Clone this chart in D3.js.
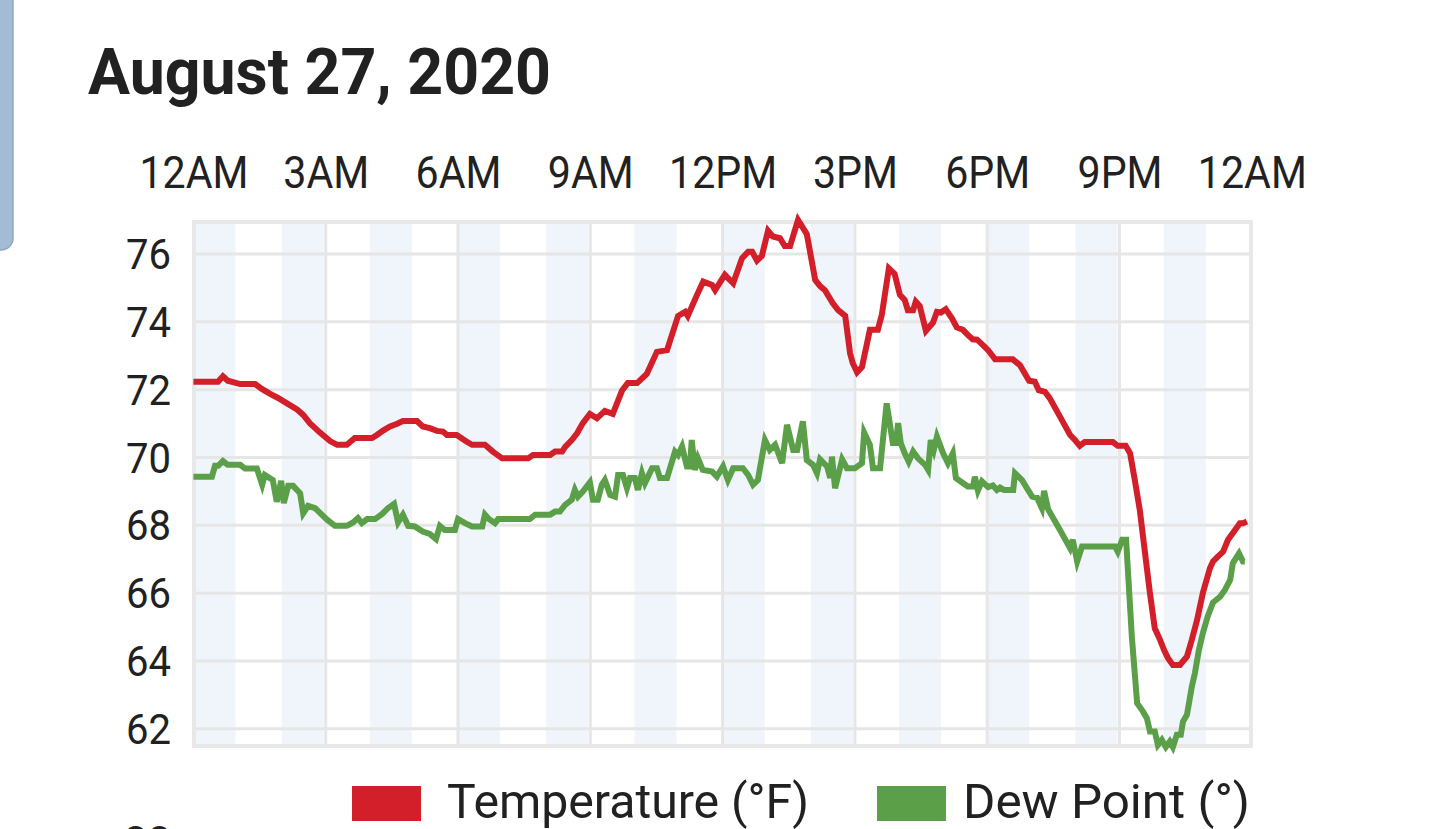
<!DOCTYPE html>
<html>
<head>
<meta charset="utf-8">
<script src="https://cdn.jsdelivr.net/npm/d3@7"></script>
<style>
  html, body { margin: 0; padding: 0; background: #fff; overflow: hidden; }
  svg { display: block; }
  text { font-family: Roboto, "Noto Sans", sans-serif; fill: #212121; }
</style>
</head>
<body>
<svg id="chart" width="1440" height="829"></svg>
<script>
// ---------------- DATA ----------------
const chartTitle = "August 27, 2020";
const xTickHours = [0, 3, 6, 9, 12, 15, 18, 21, 24];
const xTickLabels = ["12AM", "3AM", "6AM", "9AM", "12PM", "3PM", "6PM", "9PM", "12AM"];
const yTickValues = [62, 64, 66, 68, 70, 72, 74, 76];
const seriesNames = ["Temperature (°F)", "Dew Point (°)"];

const tempHours = [0.00,0.56,0.67,0.78,1.06,1.40,1.56,1.74,1.92,2.15,2.35,2.49,2.64,2.87,3.10,3.26,3.48,3.66,4.05,4.16,4.30,4.46,4.62,4.75,5.07,5.20,5.36,5.52,5.66,5.75,5.97,6.20,6.32,6.61,6.79,7.00,7.59,7.70,8.09,8.20,8.36,8.43,8.58,8.70,8.83,8.99,9.15,9.33,9.51,9.72,9.85,10.06,10.28,10.51,10.74,10.99,11.15,11.21,11.42,11.56,11.76,11.83,12.05,12.24,12.44,12.58,12.67,12.78,12.89,13.03,13.14,13.30,13.41,13.53,13.71,13.91,14.10,14.21,14.32,14.50,14.62,14.78,14.89,14.95,15.05,15.16,15.34,15.52,15.61,15.77,15.90,16.02,16.13,16.20,16.32,16.38,16.47,16.61,16.77,16.86,16.95,17.06,17.20,17.31,17.45,17.56,17.67,17.77,17.88,18.02,18.18,18.58,18.74,18.85,18.95,19.08,19.17,19.31,19.42,19.65,19.88,19.99,20.10,20.21,20.85,20.96,21.14,21.24,21.35,21.46,21.58,21.69,21.80,21.92,22.01,22.10,22.21,22.37,22.53,22.64,22.76,22.89,23.05,23.12,23.23,23.35,23.46,23.62,23.73,23.80,23.89];
const tempValues = [72.22,72.22,72.38,72.25,72.15,72.15,72.0,71.86,71.74,71.56,71.4,71.24,71.0,70.72,70.47,70.36,70.36,70.56,70.56,70.65,70.78,70.9,70.98,71.06,71.06,70.9,70.85,70.77,70.75,70.65,70.65,70.45,70.36,70.36,70.16,69.96,69.96,70.06,70.06,70.16,70.16,70.3,70.5,70.7,71.0,71.27,71.14,71.36,71.27,71.96,72.18,72.18,72.45,73.1,73.15,74.16,74.28,74.16,74.78,75.17,75.07,74.92,75.37,75.12,75.86,76.05,76.05,75.79,75.93,76.67,76.5,76.45,76.22,76.22,76.99,76.57,75.22,75.04,74.92,74.53,74.33,74.16,73.06,72.77,72.5,72.65,73.75,73.75,74.19,75.56,75.4,74.78,74.63,74.33,74.33,74.58,74.45,73.72,73.96,74.28,74.26,74.36,74.09,73.82,73.75,73.6,73.47,73.46,73.33,73.15,72.88,72.88,72.71,72.47,72.25,72.22,71.97,71.92,71.73,71.19,70.65,70.5,70.33,70.44,70.44,70.33,70.33,70.11,69.3,68.44,67.16,65.99,64.95,64.61,64.31,64.07,63.87,63.87,64.12,64.61,65.2,65.99,66.72,66.92,67.06,67.21,67.56,67.85,68.05,68.05,68.1];

const dewHours = [0.00,0.42,0.49,0.56,0.67,0.78,1.06,1.17,1.44,1.56,1.62,1.80,1.89,1.99,2.05,2.15,2.26,2.42,2.49,2.60,2.76,3.03,3.21,3.48,3.62,3.73,3.82,3.94,4.12,4.28,4.41,4.55,4.64,4.75,4.87,5.02,5.20,5.36,5.50,5.59,5.70,5.93,6.00,6.16,6.32,6.55,6.61,6.70,6.84,6.91,7.63,7.75,8.09,8.20,8.31,8.43,8.58,8.65,8.72,8.83,8.99,9.06,9.17,9.26,9.33,9.45,9.56,9.63,9.74,9.83,9.90,10.01,10.08,10.17,10.24,10.40,10.51,10.58,10.74,10.92,10.99,11.08,11.19,11.26,11.30,11.37,11.44,11.55,11.76,11.87,12.01,12.12,12.24,12.46,12.58,12.69,12.80,12.96,13.07,13.19,13.35,13.46,13.60,13.69,13.82,13.91,14.05,14.14,14.21,14.37,14.44,14.48,14.55,14.71,14.82,15.00,15.16,15.21,15.34,15.41,15.57,15.72,15.79,15.86,15.93,15.98,16.04,16.13,16.22,16.32,16.43,16.59,16.66,16.72,16.79,16.86,17.00,17.11,17.22,17.29,17.40,17.56,17.68,17.72,17.79,17.88,18.02,18.13,18.22,18.29,18.38,18.59,18.63,18.79,18.90,19.02,19.13,19.24,19.29,19.38,19.65,19.88,19.94,20.04,20.15,20.90,20.96,21.06,21.15,21.19,21.28,21.40,21.53,21.62,21.69,21.80,21.87,21.96,22.05,22.14,22.21,22.30,22.39,22.44,22.53,22.64,22.71,22.80,22.89,23.00,23.12,23.28,23.39,23.51,23.57,23.71,23.80,23.84];
const dewValues = [69.42,69.42,69.74,69.74,69.88,69.77,69.77,69.66,69.66,69.18,69.47,69.32,68.68,69.3,68.64,69.15,69.15,68.93,68.34,68.56,68.49,68.15,67.97,67.97,68.07,68.2,68.05,68.17,68.17,68.32,68.49,68.62,68.07,68.3,67.97,67.95,67.8,67.73,67.58,67.97,67.85,67.85,68.17,68.05,67.95,67.95,68.3,68.17,68.05,68.17,68.17,68.3,68.3,68.39,68.39,68.59,68.74,69.03,68.83,68.98,69.25,68.74,68.74,69.18,69.32,68.88,68.83,69.47,69.47,69.08,69.38,69.38,69.03,69.52,69.23,69.67,69.67,69.38,69.38,70.16,70.06,70.31,69.72,69.72,70.5,69.62,69.96,69.62,69.57,69.42,69.72,69.32,69.67,69.67,69.47,69.18,69.32,70.5,70.21,70.36,69.82,70.95,70.21,70.21,71.05,69.91,69.77,69.52,69.93,69.72,69.38,70.01,69.08,69.93,69.67,69.67,69.82,70.72,70.36,69.67,69.67,71.58,71.0,70.41,70.41,71.0,70.41,70.11,69.86,70.16,69.96,69.77,69.62,70.5,70.21,70.6,70.11,69.82,70.11,69.38,69.28,69.13,69.13,69.42,69.01,69.28,69.11,69.16,69.03,69.1,69.03,69.03,69.52,69.32,69.08,68.83,68.8,68.49,69.0,68.46,67.85,67.31,67.56,66.92,67.36,67.36,67.21,67.56,67.56,66.67,64.7,62.74,62.5,62.3,61.91,61.91,61.51,61.66,61.45,61.61,61.45,61.81,61.81,62.2,62.4,63.23,63.63,64.31,64.81,65.3,65.71,65.88,66.08,66.38,66.87,67.16,66.92,66.92];

// ---------------- LAYOUT / STYLE ----------------
const colors = ["#d31f29", "#5b9f49"];
const plot = { left: 194, right: 1251, top: 222, bottom: 746 };

const svg = d3.select("#chart");

// side panel (partially visible card on the left)
svg.append("rect")
  .attr("x", -30).attr("y", -30).attr("width", 43).attr("height", 280)
  .attr("rx", 12).attr("fill", "#a2bcd5").attr("stroke", "#90a8bf").attr("stroke-width", 1.5);

const x = d3.scaleLinear().domain([0, 24]).range([193.4, 1251.8]);
const y = d3.scaleLinear().domain([61.45, 76.958]).range([747, 221]);

// alternating hour bands
const bandHours = d3.range(0, 24, 2);
svg.append("g").selectAll("rect").data(bandHours).join("rect")
  .attr("x", d => x(d))
  .attr("width", d => x(d + 1) - x(d) - 2)
  .attr("y", plot.top).attr("height", plot.bottom - plot.top)
  .attr("fill", "#eff5fa");

// horizontal gridlines + y labels via axis
const yAxis = d3.axisLeft(y).tickValues(yTickValues)
  .tickSize(-(plot.right - plot.left)).tickPadding(23).tickFormat(d3.format("d"));
const gy = svg.append("g").attr("transform", `translate(${plot.left},0)`).call(yAxis);
gy.select(".domain").remove();
gy.selectAll(".tick line").attr("stroke", "#e6e6e6").attr("stroke-width", 3);
gy.selectAll(".tick text")
  .attr("font-size", 42).attr("dy", 15).attr("fill", "#212121")
  .style("font-family", "Roboto");

// vertical gridlines
svg.append("g").selectAll("line").data(xTickHours.slice(1, -1)).join("line")
  .attr("x1", d => x(d)).attr("x2", d => x(d))
  .attr("y1", plot.top).attr("y2", plot.bottom)
  .attr("stroke", "#e6e6e6").attr("stroke-width", 3);

// frame
svg.append("rect")
  .attr("x", plot.left).attr("y", plot.top)
  .attr("width", plot.right - plot.left).attr("height", plot.bottom - plot.top)
  .attr("fill", "none").attr("stroke", "#e8e8e8").attr("stroke-width", 4);

// x labels via axis on top
const xAxis = d3.axisTop(x).tickValues(xTickHours)
  .tickSize(0).tickPadding(0).tickFormat((d, i) => xTickLabels[i]);
const gx = svg.append("g").attr("transform", "translate(0,188)").call(xAxis);
gx.select(".domain").remove();
gx.selectAll(".tick text")
  .attr("font-size", 44).attr("dy", 0).attr("fill", "#212121")
  .style("font-family", "Roboto");

// lines
const line = d3.line().x(d => x(d[0])).y(d => y(d[1]));
const seriesData = [
  d3.zip(tempHours, tempValues),
  d3.zip(dewHours, dewValues)
];
// draw dew point first, then temperature
[1, 0].forEach(i => {
  svg.append("path").datum(seriesData[i])
    .attr("d", line).attr("fill", "none")
    .attr("stroke", colors[i]).attr("stroke-width", 6)
    .attr("stroke-linejoin", "miter").attr("stroke-miterlimit", 4);
});

// title
const title = svg.append("text").attr("x", 88).attr("y", 94)
  .attr("font-size", 64).attr("font-weight", 700).style("font-family", "Roboto")
  .text(chartTitle);

// legend
const legendSw = [352, 877];
const legendTx = [447, 963];
const legendW = [362, 287];
const legendTexts = [];
seriesNames.forEach((name, i) => {
  svg.append("rect").attr("x", legendSw[i]).attr("y", 786)
    .attr("width", 69).attr("height", 35).attr("fill", colors[i]);
  legendTexts.push(svg.append("text").attr("x", legendTx[i]).attr("y", 818)
    .attr("font-size", 48).style("font-family", "Roboto").text(name));
});

// partially visible label of the next chart below
svg.append("text").attr("x", 171).attr("y", 856).attr("text-anchor", "end")
  .attr("font-size", 42).style("font-family", "Roboto").text("80");

// horizontal compression to match the reference's squeezed text
function fit(sel, target) {
  const n = sel.node();
  const w = n.getComputedTextLength();
  if (w > 0) sel.attr("textLength", target).attr("lengthAdjust", "spacingAndGlyphs");
}
fit(title, 463);
legendTexts.forEach((t, i) => fit(t, legendW[i]));
const xRatio = (() => {
  const n = gx.select(".tick text").node();
  const w = n.getComputedTextLength();
  return w > 0 ? 109 / w : 1;
})();
gx.selectAll(".tick text").each(function () {
  const w = this.getComputedTextLength();
  d3.select(this).attr("textLength", w * xRatio).attr("lengthAdjust", "spacingAndGlyphs");
});
const yRatio = (() => {
  const n = gy.selectAll(".tick text").nodes().slice(-1)[0];
  const w = n.getComputedTextLength();
  return w > 0 ? 45 / w : 1;
})();
gy.selectAll(".tick text").each(function () {
  const w = this.getComputedTextLength();
  d3.select(this).attr("textLength", w * yRatio).attr("lengthAdjust", "spacingAndGlyphs");
});
</script>
</body>
</html>
